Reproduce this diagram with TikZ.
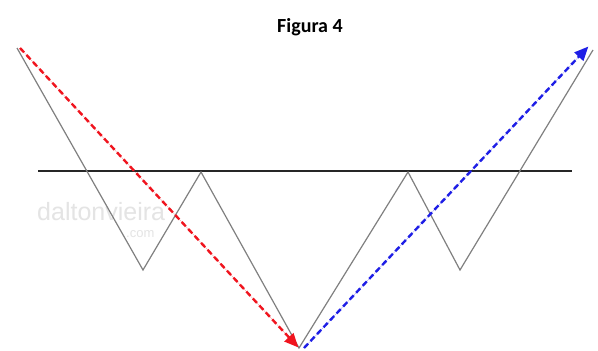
\documentclass[tikz,border=0pt]{standalone}
\usepackage{fontspec}
\setmainfont{Carlito}
\newfontfamily\wmfont{Liberation Sans}
\usetikzlibrary{arrows.meta}
\definecolor{zig}{HTML}{808080}
\definecolor{wm}{HTML}{E4E4E4}
\definecolor{arrred}{HTML}{F0141E}
\definecolor{arrblue}{HTML}{1E1EE6}
\tikzset{
  zigline/.style={draw=zig, line width=1.2pt, line join=miter},
  levelline/.style={draw=black!85, line width=2pt},
  dasharrow/.style={line width=2.4pt, dash pattern=on 6pt off 3.5pt, -{Triangle[length=14pt,width=12pt]}, shorten >=-2pt},
  watermark/.style={text=wm, inner sep=0pt, anchor=base west}
}
\begin{document}
\begin{tikzpicture}[x=1pt,y=-1pt]
\useasboundingbox[fill=white] (0,0) rectangle (598,351);
% watermark
\node[watermark, font=\wmfont\fontsize{25}{25}\selectfont] (wm1) at (37,220) {daltonvieira};
\node[watermark, font=\wmfont\fontsize{13}{13}\selectfont] (wm2) at (126,237) {.com};
% title
\node[font=\bfseries\fontsize{20}{20}\selectfont, inner sep=0pt] (title) at (310,27) {Figura 4};
% zigzag points
\coordinate (p0) at (17,48);
\coordinate (p1) at (143,270);
\coordinate (p2) at (201,172);
\coordinate (p3) at (299,348);
\coordinate (p4) at (408,172);
\coordinate (p5) at (460,270);
\coordinate (p6) at (593,50);
% level line
\coordinate (l0) at (38,171);
\coordinate (l1) at (572,171);
\draw[levelline] (l0) -- (l1);
\draw[zigline] (p0) -- (p1) -- (p2) -- (p3) -- (p4) -- (p5) -- (p6);
% arrows
\coordinate (r0) at (20,48);
\coordinate (r1) at (297,346);
\coordinate (b0) at (304,348);
\coordinate (b1) at (587,48);
\draw[dasharrow, draw=arrred, fill=arrred] (r0) -- (r1);
\draw[dasharrow, draw=arrblue, fill=arrblue] (b0) -- (b1);
\end{tikzpicture}
\end{document}
